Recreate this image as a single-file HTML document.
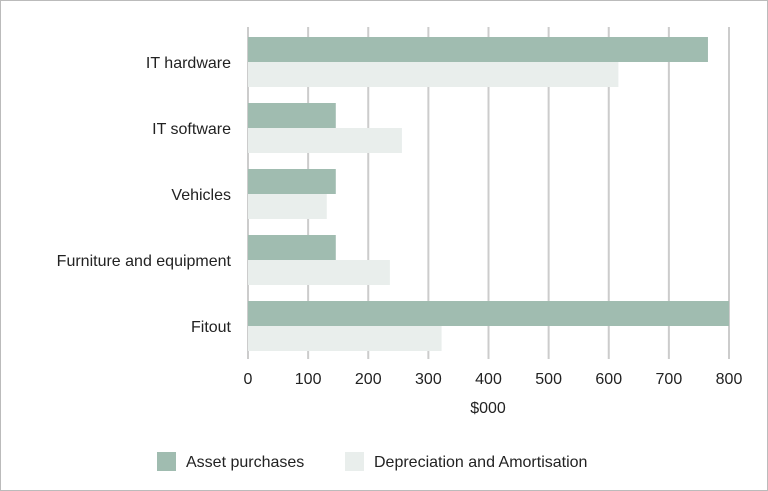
<!DOCTYPE html>
<html><head><meta charset="utf-8"><style>
body{margin:0;background:#fff;}
svg{display:block;font-family:"Liberation Sans",sans-serif;}
</style></head><body>
<svg id="chart" width="768" height="491">
<rect x="0.5" y="0.5" width="767" height="490" fill="#fff" stroke="#bbb"/>
<g id="grid"></g><g id="bars"></g><g id="labels"></g>
<text x="488" y="413" font-size="16" fill="#222" text-anchor="middle">$000</text>
<g>
<rect x="157" y="452" width="19" height="19" fill="#a0bcb0"/>
<text x="186" y="467" font-size="16" fill="#222">Asset purchases</text>
<rect x="345" y="452" width="19" height="19" fill="#e9eeec"/>
<text x="374" y="467" font-size="16" fill="#222">Depreciation and Amortisation</text>
</g>
</svg>
<script>
const categories=["IT hardware","IT software","Vehicles","Furniture and equipment","Fitout"];
const assetPurchases=[765,146,146,146,800];
const depreciation=[616,256,131,236,322];
const ticks=[0,100,200,300,400,500,600,700,800];
const NS="http://www.w3.org/2000/svg";
const x0=248,x1=729,xmax=800,plotTop=28,step=66,bh=25,off=9;
const xs=v=>x0+(v/xmax)*(x1-x0);
function mk(t,a,p){const e=document.createElementNS(NS,t);for(const k in a)e.setAttribute(k,a[k]);p.appendChild(e);return e;}
const gG=document.getElementById('grid'),gB=document.getElementById('bars'),gL=document.getElementById('labels');
const plotBottom=plotTop+step*categories.length;
ticks.forEach(t=>{
 const ln=mk('line',{x1:xs(t),x2:xs(t),y1:plotTop-1,y2:plotBottom+1,stroke:'#cccccc','stroke-width':2},gG);
 
 
 const tx=mk('text',{x:xs(t),y:384,'font-size':16,fill:'#222','text-anchor':'middle'},gL);
 tx.textContent=t;
 
 
});
categories.forEach((c,i)=>{
 const y=plotTop+i*step+off;
 const r1=mk('rect',{x:x0,y:y,width:xs(assetPurchases[i])-x0,height:bh,fill:'#a0bcb0'},gB);
 
 
 const r2=mk('rect',{x:x0,y:y+bh,width:xs(depreciation[i])-x0,height:bh,fill:'#e9eeec'},gB);
 
 
 const tx=mk('text',{x:231,y:y+bh+6,'font-size':16,fill:'#222','text-anchor':'end'},gL);
 tx.textContent=c;
 
 
});
</script>
</body></html>
